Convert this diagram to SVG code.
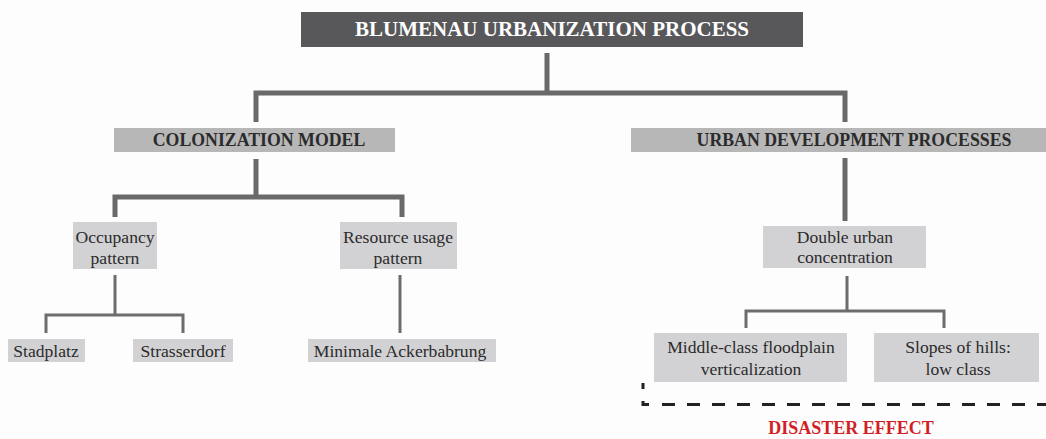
<svg xmlns="http://www.w3.org/2000/svg" width="1046" height="439" viewBox="0 0 1046 439">
<style>
.bg{fill:#fdfdfd}
.dark{fill:#58585a}
.mid{fill:#b7b7b8}
.light{fill:#d2d2d4}
.t{font-family:"Liberation Serif",serif;text-anchor:middle}
.title{font-size:21px;font-weight:bold;fill:#ffffff}
.head{font-size:17.8px;font-weight:bold;fill:#2b2b2b}
.lab{font-size:17.6px;fill:#2b2b2b}
.thick{stroke:#69696b;stroke-width:5;fill:none}
.thin{stroke:#6d6d6f;stroke-width:3;fill:none}
.solid{stroke:#222;stroke-width:3;fill:none}
.dash{stroke:#222;stroke-width:3;fill:none;stroke-dasharray:13 12}
.red{font-size:18px;font-weight:bold;fill:#d21f26}
</style>
<rect class="bg" x="0" y="0" width="1046" height="439"/>
<g id="connectors">
<path class="thick" d="M547 53V93M256 122V93H845V122"/>
<path class="thick" d="M256 159V197M115 217V197H402V217"/>
<path class="thick" d="M845 158V221"/>
<path class="thin" d="M115 275V315M46 333V315H183V333"/>
<path class="thin" d="M400 275V333"/>
<path class="thin" d="M847 276V311M746 328V311H944V328"/>
</g>
<g id="title"><rect class="dark" x="301" y="12" width="502" height="35"/><text class="t title" x="552" y="36">BLUMENAU URBANIZATION PROCESS</text></g>
<g id="colonization"><rect class="mid" x="114" y="128" width="281" height="24"/><text class="t head" x="259" y="146">COLONIZATION MODEL</text></g>
<g id="urban-dev"><rect class="mid" x="631" y="128" width="415" height="24"/><text class="t head" x="854" y="146">URBAN DEVELOPMENT PROCESSES</text></g>
<g id="occupancy"><rect class="light" x="73" y="222" width="84" height="47"/><text class="t lab" x="115" y="243">Occupancy</text><text class="t lab" x="115" y="264">pattern</text></g>
<g id="resource"><rect class="light" x="340" y="222" width="117" height="47"/><text class="t lab" x="398" y="243">Resource usage</text><text class="t lab" x="398" y="264">pattern</text></g>
<g id="double"><rect class="light" x="763" y="226" width="163" height="42"/><text class="t lab" x="845" y="243">Double urban</text><text class="t lab" x="845" y="263">concentration</text></g>
<g id="stadplatz"><rect class="light" x="8" y="339" width="77" height="23"/><text class="t lab" x="46" y="357">Stadplatz</text></g>
<g id="strasserdorf"><rect class="light" x="133" y="339" width="100" height="23"/><text class="t lab" x="183" y="357">Strasserdorf</text></g>
<g id="minimale"><rect class="light" x="308" y="339" width="188" height="23"/><text class="t lab" x="400" y="357">Minimale Ackerbabrung</text></g>
<g id="middle-class"><rect class="light" x="654" y="333" width="193" height="49"/><text class="t lab" x="751" y="353">Middle-class floodplain</text><text class="t lab" x="751" y="375">verticalization</text></g>
<g id="slopes"><rect class="light" x="874" y="333" width="165" height="49"/><text class="t lab" x="958" y="353">Slopes of hills:</text><text class="t lab" x="958" y="375">low class</text></g>
<g id="disaster">
<path class="solid" d="M643 383V389M643 401V404.5H649"/>
<path class="dash" d="M662 404.5H1046"/>
<text class="t red" x="851" y="434">DISASTER EFFECT</text>
</g>
</svg>
